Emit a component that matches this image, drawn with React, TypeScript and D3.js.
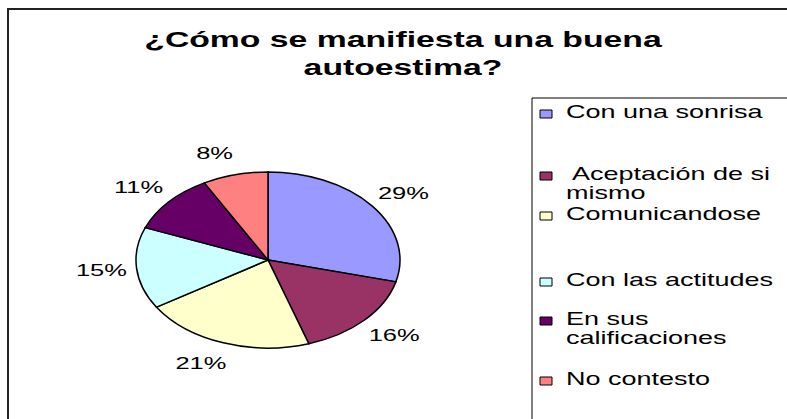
import React from "react";
import * as d3 from "d3";

const categories = [
  "Con una sonrisa",
  "Aceptación de si mismo",
  "Comunicandose",
  "Con las actitudes",
  "En sus calificaciones",
  "No contesto",
];
const values = [29, 16, 21, 15, 11, 8];
const colors = ["#9999FF", "#993366", "#FFFFCC", "#CCFFFF", "#660066", "#FF8080"];
const titleLines = ["¿Cómo se manifiesta una buena", "autoestima?"];
const legendLines = [
  ["Con una sonrisa"],
  [" Aceptación de si", "mismo"],
  ["Comunicandose"],
  ["Con las actitudes"],
  ["En sus", "calificaciones"],
  ["No contesto"],
];

const W = 787;
const H = 419;
const SX = 1.5; // horizontal stretch of the picture
const VW = W / SX;
const FONT = "'Liberation Sans', Arial, sans-serif";

export default function App() {
  const cx = 268 / SX;
  const cy = 260;
  const r = 88;
  const pie = d3.pie<number>().sort(null).value((d) => d)(values);
  const arc = d3.arc<d3.PieArcDatum<number>>().innerRadius(0).outerRadius(r);
  const total = d3.sum(values);

  const legendX = 532 / SX;
  const legendTop = 98;
  const entryBaselines = [118, 180, 220, 286, 325, 385];
  const lineH = 19;

  return (
    <svg
      width={W}
      height={H}
      viewBox={`0 0 ${VW} ${H}`}
      preserveAspectRatio="none"
      style={{ position: "absolute", left: 0, top: 0, background: "#fff" }}
    >
      <rect x={0} y={0} width={VW} height={H} fill="#fff" />
      {/* outer frame */}
      <rect
        x={8 / SX}
        y={9}
        width={VW + 20}
        height={H + 20}
        fill="none"
        stroke="#222"
        strokeWidth={2}
        vectorEffect="non-scaling-stroke"
      />
      {/* title */}
      {titleLines.map((t, i) => (
        <text
          key={i}
          x={403 / SX}
          y={47 + i * 28}
          textAnchor="middle"
          fontFamily={FONT}
          fontWeight="bold"
          fontSize={22.5}
          fill="#000"
        >
          {t}
        </text>
      ))}
      {/* pie */}
      <g transform={`translate(${cx},${cy})`}>
        {pie.map((p, i) => (
          <path
            key={i}
            d={arc(p) || ""}
            fill={colors[i]}
            stroke="#000"
            strokeWidth={1.5}
            vectorEffect="non-scaling-stroke"
          />
        ))}
        {pie.map((p, i) => {
          const a = (p.startAngle + p.endAngle) / 2;
          const s = Math.sin(a);
          const c = Math.cos(a);
          const x = 101 * s + 10.5 * Math.sign(s);
          const y = -110 * c + 6;
          return (
            <text
              key={i}
              x={x}
              y={y}
              textAnchor="middle"
              fontFamily={FONT}
              fontSize={17}
              fill="#000"
            >
              {Math.round((p.value / total) * 100)}%
            </text>
          );
        })}
      </g>
      {/* legend */}
      <rect
        x={legendX}
        y={legendTop}
        width={VW}
        height={H}
        fill="#fff"
        stroke="#000"
        strokeWidth={1}
        vectorEffect="non-scaling-stroke"
      />
      {categories.map((cat, i) => (
        <g key={cat}>
          <rect
            x={540 / SX}
            y={entryBaselines[i] - 8}
            width={12 / SX}
            height={8}
            fill={colors[i]}
            stroke="#000"
            strokeWidth={1}
            vectorEffect="non-scaling-stroke"
          />
          {legendLines[i].map((ln, j) => (
            <text
              key={j}
              x={566 / SX}
              y={entryBaselines[i] + j * lineH}
              fontFamily={FONT}
              fontSize={18}
              fill="#000"
              style={{ whiteSpace: "pre" }}
            >
              {ln}
            </text>
          ))}
        </g>
      ))}
    </svg>
  );
}
